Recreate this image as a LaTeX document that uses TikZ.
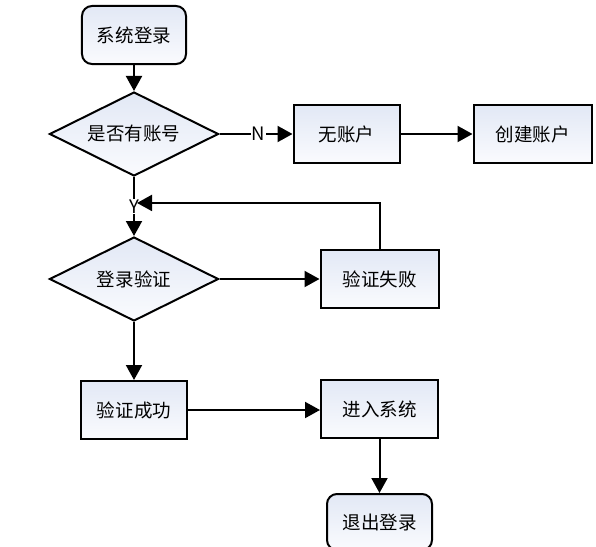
\documentclass[tikz,border=0pt]{standalone}
\usepackage{fontspec}
\setmainfont{Noto Sans CJK SC}
\usetikzlibrary{shapes.geometric,positioning,arrows.meta,calc}
\definecolor{boxtop}{RGB}{226,232,245}
\definecolor{boxbot}{RGB}{250,251,254}

\begin{document}
\begin{tikzpicture}[node distance=26pt,line width=2pt,
    font=\fontsize{18.5}{20}\selectfont,
    process/.style={draw,rectangle,top color=boxtop,bottom color=boxbot,
      minimum height=58pt,inner sep=0pt},
    terminal/.style={process,rounded corners=10pt},
    decision/.style={draw,diamond,shape aspect=2,top color=boxtop,
      bottom color=boxbot,minimum width=169pt,minimum height=84pt,inner sep=0pt},
    flow/.style={-{Triangle[length=15pt,width=16pt]}},
    branch/.style={fill=white,inner sep=1pt}]
  \useasboundingbox (-134pt,35pt) rectangle (462pt,-511pt);
  % Start of the flow, then the first question
  \node[terminal,minimum width=104pt] (login) {系统登录};
  \node[decision] (hasacct) [below=of login] {是否有账号};
  % The "no account" branch goes to the right
  \node[process,minimum width=106pt] (noacct) [right=73pt of hasacct] {无账户};
  \node[process,minimum width=118pt] (newacct) [right=72pt of noacct] {创建账户};
  % Check of the login, with its failure box
  \node[decision] (check) [below=59pt of hasacct] {登录验证};
  \node[process,minimum width=118pt] (fail) [right=100pt of check] {验证失败};
  \node[process,minimum width=105pt] (ok) [below=58pt of check] {验证成功};
  \node[process,minimum width=117pt] (enter) [below=70pt of fail] {进入系统};
  \node[terminal,minimum width=105pt,minimum height=56pt] (logout)
    [below=54pt of enter] {退出登录};
  \coordinate (merge) at ($(hasacct.south)!0.44!(check.north)$);
  % Connectors
  \draw[flow] (login) -- (hasacct);
  \draw[flow] (hasacct) -- node[branch,pos=0.53] {N} (noacct);
  \draw[flow] (noacct) -- (newacct);
  \draw[flow] (hasacct) -- node[branch] {Y} (check);
  \draw[flow] (check) -- (fail);
  \draw[flow,shorten >=3pt] (fail.north) |- (merge);
  \draw[flow] (check) -- (ok);
  \draw[flow] (ok) -- (ok -| enter.west);
  \draw[flow] (enter) -- (logout);
\end{tikzpicture}
\end{document}
